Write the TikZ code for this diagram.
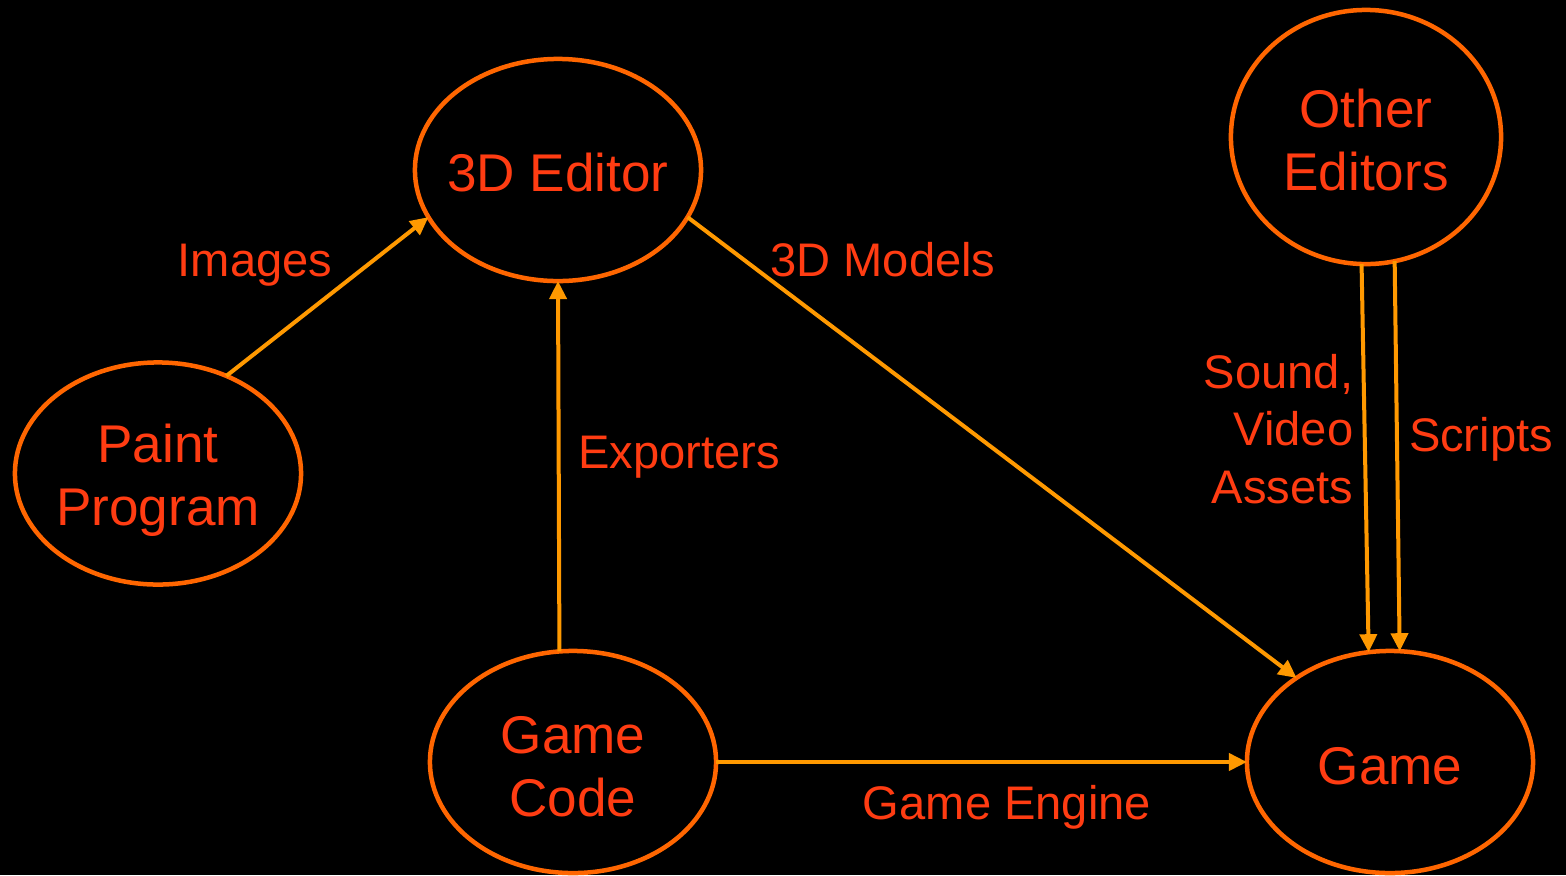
\documentclass[tikz,border=0pt]{standalone}
\usepackage{fontspec}
\setmainfont{Liberation Sans}
\usetikzlibrary{shapes.geometric,arrows.meta}
\definecolor{ringcol}{HTML}{FF6600}
\definecolor{arrcol}{HTML}{FF9900}
\definecolor{txtcol}{HTML}{FF3C12}
\tikzset{
  blob/.style={ellipse, draw=ringcol, line width=0.045cm, inner sep=0pt, outer sep=0pt,
    minimum width=2.86cm, minimum height=2.22cm},
  blobtxt/.style={text=txtcol, align=center, inner sep=0pt, font=\fontsize{15.1}{17.9}\selectfont},
  flow/.style={draw=arrcol, line width=0.04cm, -{Triangle[length=0.18cm,width=0.17cm]}},
  lbl/.style={text=txtcol, inner sep=0pt, font=\fontsize{13.4}{16.4}\selectfont}
}
\begin{document}
\begin{tikzpicture}[x=0.01cm,y=-0.01cm]
\fill[black] (0,0) rectangle (1566,875);
\useasboundingbox (0,0) rectangle (1566,875);

\node[blob, label={[blobtxt, yshift=-0.03cm]center:3D Editor}] (ed) at (558,170) {};
\node[blob, minimum width=2.70cm, minimum height=2.54cm,
  label={[blobtxt, yshift=-0.03cm]center:{Other\\Editors}}] (oe) at (1366,137) {};
\node[blob, label={[blobtxt, yshift=-0.07cm]center:{Paint\\Program}}] (pp) at (158,473.5) {};
\node[blob, label={[blobtxt, yshift=-0.05cm]center:{Game\\Code}}] (gc) at (573,762) {};
\node[blob, label={[blobtxt, yshift=-0.04cm]center:Game}] (gm) at (1390,762) {};

\draw[flow] (pp.55) -- (ed.200);
\draw[flow] (ed.340) -- (gm.138);
\draw[flow] (gc.97.5) -- (ed.south);
\draw[flow] (gc.east) -- (gm.west);
\draw[flow] (oe.268.6) -- (gm.101);
\draw[flow] (oe.283) -- (gm.85.4);

\node[lbl] (limg) at (255,265) {Images};
\node[lbl] (lmod) at (883,260) {3D Models};
\node[lbl] (lexp) at (679,457) {Exporters};
\node[lbl, align=right, anchor=east] (lsnd) at (1354,429) {Sound,\\Video\\Assets};
\node[lbl] (lscr) at (1481,439) {Scripts};
\node[lbl] (leng) at (1007,807) {Game Engine};
\end{tikzpicture}
\end{document}
